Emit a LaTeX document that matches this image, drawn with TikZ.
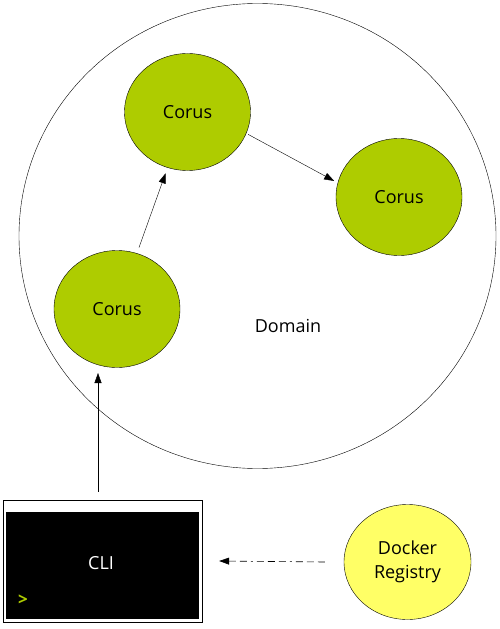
\documentclass[tikz,border=0pt]{standalone}
\usepackage{fontspec}
\setmainfont{Open Sans}
\usetikzlibrary{shapes.geometric,arrows.meta}
\definecolor{corusgreen}{HTML}{AECC00}
\definecolor{dockeryellow}{HTML}{FFFF66}
\newcommand{\labelfont}{\fontsize{18bp}{24bp}\selectfont}
\tikzset{
  corus/.style={ellipse,draw,fill=corusgreen,minimum width=126bp,minimum height=117bp,inner sep=0pt,font=\labelfont},
  arr/.style={-{Triangle[length=10bp,width=7bp]},thin}
}
\begin{document}
\begin{tikzpicture}[x=1bp,y=-1bp]
            \useasboundingbox (0,0) rectangle (500,629);
            \node[ellipse,draw,thin,minimum width=477bp,minimum height=465bp] (domain) at (257.5,236) {};
            \node[font=\labelfont] (domainlabel) at (288,326) {Domain};
            \node[corus] (corustop)   at (187.5,112) {Corus};
            \node[corus] (corusright) at (399,197)   {Corus};
            \node[corus] (corusleft)  at (117,309)   {Corus};
            \node[draw,thin,minimum width=199bp,minimum height=122bp,inner sep=0pt] (cli) at (102.5,561) {};
            \node[fill=black,minimum width=193bp,minimum height=107bp,inner sep=0pt] (screen) at (102.5,565.5) {};
            \node[white,font=\labelfont] (clilabel) at (101,563) {CLI};
            \node[corusgreen,font=\bfseries\fontsize{17bp}{17bp}\selectfont] (prompt) at (23,600) {>};
            \node[ellipse,draw,fill=dockeryellow,minimum width=127bp,minimum height=115bp,inner sep=0pt,align=center,font=\labelfont] (registry) at (407.5,562) {Docker\\Registry};
            \draw[arr] (corusleft) -- (corustop) [shorten <=6bp,shorten >=6bp];
            \draw[arr,shorten <=2bp,shorten >=4bp] (corustop.-20) -- (corusright.167);
            \draw[arr] ([shift={(-4.5,-8)}]cli.north) -- ([shift={(-19,64)}]corusleft.center);
            \draw[arr,semithick,dash pattern=on 7bp off 4bp on 7bp off 4bp on 7bp off 4bp on 2bp off 4bp] ([xshift=-19bp]registry.west) -- ([xshift=17bp]cli.east);
        \end{tikzpicture}
\end{document}
